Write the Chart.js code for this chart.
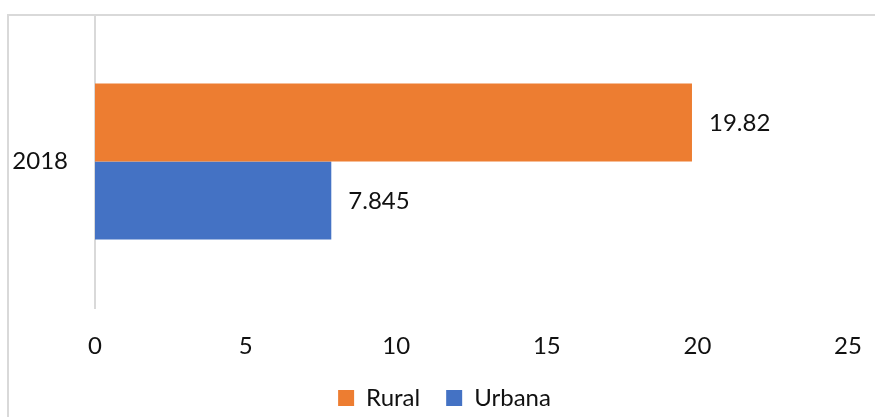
<!DOCTYPE html>
<html>
<head>
<meta charset="utf-8">
<script src="https://cdn.jsdelivr.net/npm/chart.js@4.4.1/dist/chart.umd.min.js"></script>
<style>
  html, body { margin: 0; padding: 0; background: #fff; }
  #wrap { width: 875px; height: 417px; position: relative; }
</style>
</head>
<body>
<div id="wrap"><canvas id="c" width="875" height="417"></canvas></div>
<script>
const categories = ['2018'];
const seriesNames = ['Rural', 'Urbana'];
const ruralValues = [19.82];
const urbanaValues = [7.845];
const valueLabels = [['19.82'], ['7.845']];
const xTicks = [0, 5, 10, 15, 20, 25];

const FONT = 'Lato, "Open Sans", sans-serif';

const framePlugin = {
  id: 'frame',
  beforeDraw(chart) {
    const ctx = chart.ctx;
    ctx.save();
    ctx.fillStyle = '#ffffff';
    ctx.fillRect(0, 0, chart.width, chart.height);
    ctx.strokeStyle = '#d9d9d9';
    ctx.lineWidth = 2;
    ctx.strokeRect(8, 15, chart.width + 50, chart.height + 50);
    ctx.restore();
  }
};

const legendShiftPlugin = {
  id: 'legendShift',
  afterLayout(chart) {
    const lg = chart.legend;
    if (lg) { lg.left += 33; }
  }
};

const valueLabelPlugin = {
  id: 'valueLabels',
  afterDatasetsDraw(chart) {
    const ctx = chart.ctx;
    ctx.save();
    ctx.font = '24px ' + FONT;
    ctx.fillStyle = '#111';
    ctx.textAlign = 'left';
    ctx.textBaseline = 'middle';
    chart.data.datasets.forEach((ds, di) => {
      const meta = chart.getDatasetMeta(di);
      meta.data.forEach((el, i) => {
        ctx.fillText(valueLabels[di][i], el.x + 17, el.y + 1);
      });
    });
    ctx.restore();
  }
};

new Chart(document.getElementById('c'), {
  type: 'bar',
  data: {
    labels: categories,
    datasets: [
      { label: seriesNames[0], data: ruralValues, backgroundColor: '#ED7D31', borderWidth: 0 },
      { label: seriesNames[1], data: urbanaValues, backgroundColor: '#4472C4', borderWidth: 0 }
    ]
  },
  plugins: [framePlugin, legendShiftPlugin, valueLabelPlugin],
  options: {
    indexAxis: 'y',
    responsive: false,
    animation: false,
    devicePixelRatio: 1,
    layout: { padding: { left: 8, right: 27, top: 15, bottom: 0 } },
    datasets: { bar: { categoryPercentage: 0.532, barPercentage: 1.0 } },
    scales: {
      x: {
        min: 0, max: 25,
        afterBuildTicks(scale) { scale.ticks = xTicks.map(v => ({ value: v })); },
        afterFit(scale) { scale.height = 52; scale.paddingLeft = 0; scale.paddingRight = 0; },
        grid: { display: false, drawTicks: false },
        border: { display: false },
        ticks: { color: '#111', font: { family: FONT, size: 24 }, padding: 24, maxRotation: 0 }
      },
      y: {
        afterFit(scale) { scale.width = 95 - 8; scale.paddingTop = 0; scale.paddingBottom = 0; },
        grid: { display: false, drawTicks: false },
        border: { display: true, color: '#d9d9d9', width: 2 },
        ticks: { color: '#111', font: { family: FONT, size: 24 }, padding: 27 }
      }
    },
    plugins: {
      legend: {
        position: 'bottom',
        maxHeight: 57,
        labels: {
          boxWidth: 16, boxHeight: 16, padding: 26,
          color: '#111', font: { family: FONT, size: 24 }
        }
      },
      tooltip: { enabled: false }
    }
  }
});
</script>
</body>
</html>
